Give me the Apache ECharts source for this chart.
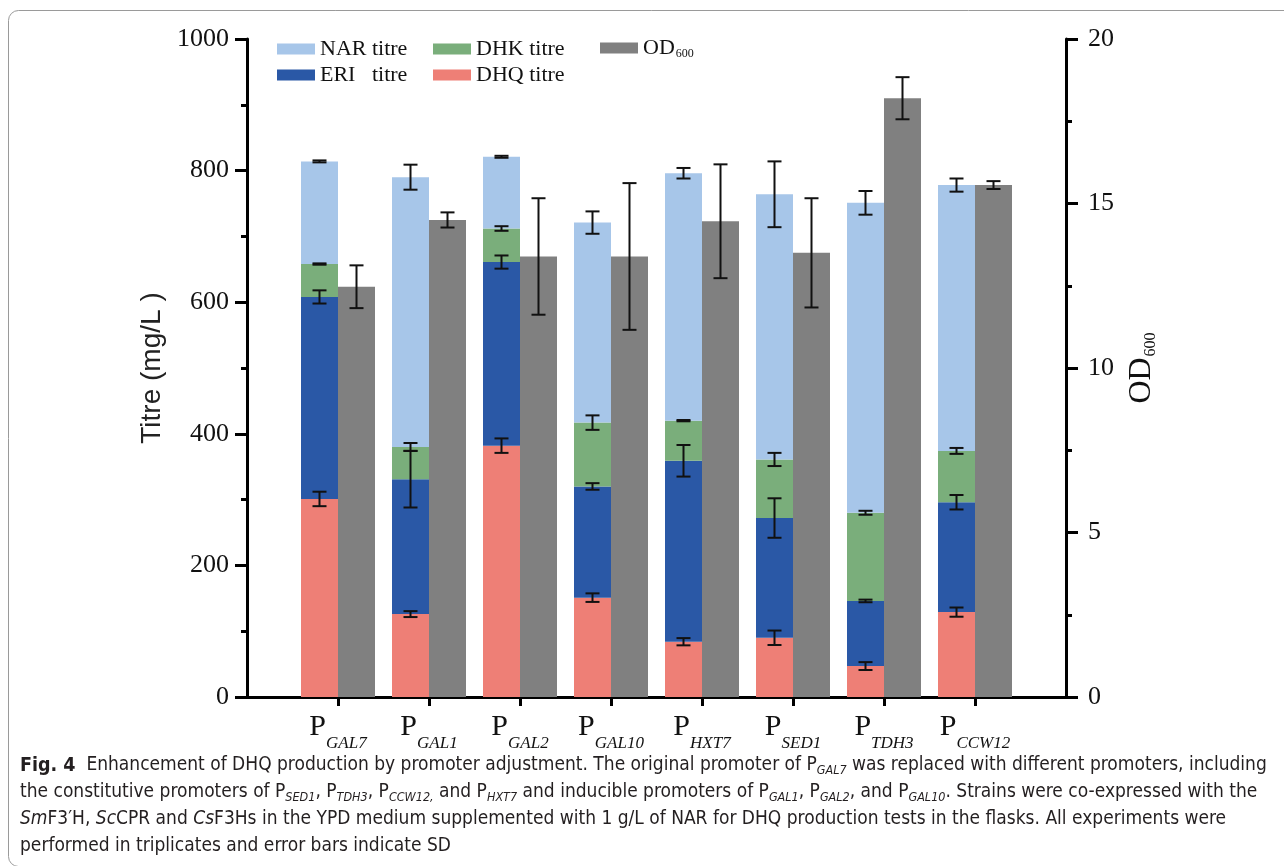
<!DOCTYPE html>
<html lang="en">
<head>
<meta charset="UTF-8">
<title>Fig. 4 DHQ promoter adjustment</title>
<script src="https://cdn.jsdelivr.net/npm/echarts@6.0.0/dist/echarts.min.js"></script>
<style>
    html, body { margin: 0; padding: 0; background: #fff; }
    #main { width: 1284px; height: 866px; }
</style>
</head>
<body>
<div id="main"></div>
<script>
// promoters on the x axis (shown as P with an italic subscript)
var promoters = ['GAL7', 'GAL1', 'GAL2', 'GAL10', 'HXT7', 'SED1', 'TDH3', 'CCW12'];

// stacked titre segments, mg/L (bottom to top)
var dhqTitre = [301, 126, 382, 151, 84, 90, 47, 129];
var eriTitre = [307, 205, 279, 169, 275, 182, 99, 167];
var dhkTitre = [50, 49, 51, 97, 61, 89, 134, 78];
var narTitre = [156, 410, 109, 304, 376, 403, 471, 404];

// SD of each segment (drawn at the top of the segment)
var dhqSd = [11, 4.5, 11, 6.5, 5.5, 11, 6, 7];
var eriSd = [10, 43, 10, 5, 24, 30, 2, 11];
var dhkSd = [1, 6, 3.5, 11, 1, 10, 3, 4.5];
var narSd = [1.5, 19, 1.5, 17, 8, 50, 18, 10];

// OD600, right axis
var od600 = [12.47, 14.5, 13.39, 13.39, 14.46, 13.5, 18.2, 15.56];
var od600Sd = [0.65, 0.23, 1.77, 2.23, 1.73, 1.66, 0.64, 0.12];

var leftTicks = { min: 0, max: 1000, interval: 200 };
var rightTicks = { min: 0, max: 20, interval: 5 };

var SERIF = "'Liberation Serif', 'Times New Roman', serif";
var SANS = "'Liberation Sans', Arial, sans-serif";
var CAPTION = "'Liberation Sans Narrow', 'DejaVu Sans Condensed', sans-serif";
var BAR_W = 37;
var CAP = 7;

var chart = echarts.init(document.getElementById('main'));

// empty slots at both ends give the half-gap between the y axes and the first/last group
var xCats = [' '].concat(promoters, ['  ']);
function isPromoter(i, v) { return promoters.indexOf(v) >= 0; }

function pairs(arr) {
    return arr.map(function (v, i) { return [promoters[i], v]; });
}

// error bars sit on the cumulative top of every segment
var titreErr = [];
var layers = [[dhqTitre, dhqSd], [eriTitre, eriSd], [dhkTitre, dhkSd], [narTitre, narSd]];
var running = promoters.map(function () { return 0; });
layers.forEach(function (l) {
    l[0].forEach(function (v, i) {
        running[i] += v;
        titreErr.push([promoters[i], running[i], l[1][i]]);
    });
});
var odErr = od600.map(function (v, i) { return [promoters[i], v, od600Sd[i]]; });

function errorBar(shift) {
    return function (params, api) {
        var x = api.value(0), y = api.value(1), sd = api.value(2);
        var hi = api.coord([x, y + sd]);
        var lo = api.coord([x, y - sd]);
        var cx = hi[0] + shift;
        var st = { stroke: '#111', lineWidth: 2 };
        return {
            type: 'group',
            children: [
                { type: 'line', shape: { x1: cx, y1: hi[1], x2: cx, y2: lo[1] }, style: st },
                { type: 'line', shape: { x1: cx - CAP, y1: hi[1], x2: cx + CAP, y2: hi[1] }, style: st },
                { type: 'line', shape: { x1: cx - CAP, y1: lo[1], x2: cx + CAP, y2: lo[1] }, style: st }
            ]
        };
    };
}

var legendBase = {
    orient: 'vertical',
    icon: 'rect',
    itemWidth: 38,
    itemHeight: 11,
    itemGap: 4,
    selectedMode: false,
    textStyle: {
        fontFamily: SERIF, fontSize: 22, color: '#111', lineHeight: 22,
        rich: {
            a: { fontFamily: SERIF, fontSize: 22, lineHeight: 22, color: '#111' },
            s: { fontFamily: SERIF, fontSize: 12, lineHeight: 12, padding: [12, 0, 0, 1], color: '#111' }
        }
    }
};

var caption =
    '{b|Fig. 4}  Enhancement of DHQ production by promoter adjustment. The original promoter of P{s|GAL7} was replaced with different promoters, including\n' +
    'the constitutive promoters of P{s|SED1}, P{s|TDH3}, P{s|CCW12,} and P{s|HXT7} and inducible promoters of P{s|GAL1}, P{s|GAL2}, and P{s|GAL10}. Strains were co-expressed with the\n' +
    '{i|Sm}F3\u2032H, {i|Sc}CPR and {i|Cs}F3Hs in the YPD medium supplemented with 1 g/L of NAR for DHQ production tests in the flasks. All experiments were\n' +
    'performed in triplicates and error bars indicate SD';

var option = {
    backgroundColor: '#fff',
    animation: false,
    graphic: [{
        type: 'rect',
        shape: { x: 8.5, y: 10.5, width: 1300, height: 856, r: 10 },
        style: { fill: 'none', stroke: '#9a9a9a', lineWidth: 1 },
        silent: true
    }],
    title: {
        left: 15,
        top: 747,
        text: caption,
        textStyle: {
            fontFamily: CAPTION, fontSize: 19, fontWeight: 'normal', color: '#231f20', lineHeight: 27,
            rich: {
                b: { fontFamily: CAPTION, fontSize: 19.5, fontWeight: 'bold', color: '#231f20', lineHeight: 27 },
                i: { fontFamily: CAPTION, fontSize: 19, fontStyle: 'italic', color: '#231f20', lineHeight: 27 },
                s: { fontFamily: CAPTION, fontSize: 12.5, fontStyle: 'italic', color: '#231f20', lineHeight: 17, padding: [10, 0, 0, 0] }
            }
        }
    },
    legend: [
        Object.assign({}, legendBase, { left: 272, top: 33, data: ['NAR titre', 'ERI   titre'] }),
        Object.assign({}, legendBase, { left: 428, top: 33, data: ['DHK titre', 'DHQ titre'] }),
        Object.assign({}, legendBase, {
            left: 595, top: 31, data: ['OD600'],
            formatter: function () { return '{a|OD}{s|600}'; }
        })
    ],
    grid: { left: 247, right: 218, top: 39, bottom: 169, outerBoundsMode: 'none' },
    xAxis: {
        type: 'category',
        data: xCats,
        boundaryGap: false,
        splitLine: { show: false },
        axisLine: { onZero: false, lineStyle: { color: '#000', width: 3 } },
        axisTick: { length: 9, interval: isPromoter, lineStyle: { color: '#000', width: 3 } },
        axisLabel: {
            margin: 15,
            interval: isPromoter,
            formatter: function (v) {
                return promoters.indexOf(v) >= 0 ? '{p|P}{s|' + v + '}' : '';
            },
            rich: {
                p: { fontFamily: SERIF, fontSize: 30, lineHeight: 30, color: '#111', verticalAlign: 'top' },
                s: { fontFamily: SERIF, fontSize: 17, fontStyle: 'italic', lineHeight: 17, color: '#111', verticalAlign: 'top', padding: [23, 0, 0, 0] }
            }
        }
    },
    yAxis: [{
        type: 'value',
        min: leftTicks.min,
        max: leftTicks.max,
        interval: leftTicks.interval,
        name: 'Titre (mg/L )',
        nameLocation: 'middle',
        nameGap: 74,
        nameTextStyle: { fontFamily: SANS, fontSize: 28, color: '#222' },
        splitLine: { show: false },
        axisLine: { show: true, onZero: false, lineStyle: { color: '#000', width: 3 } },
        axisTick: { show: true, length: 12, lineStyle: { color: '#000', width: 3 } },
        minorTick: { show: true, splitNumber: 2, length: 6, lineStyle: { color: '#000', width: 3 } },
        axisLabel: { margin: 18, fontFamily: SERIF, fontSize: 26, color: '#111', formatter: function (v) { return String(v); } }
    }, {
        type: 'value',
        position: 'right',
        min: rightTicks.min,
        max: rightTicks.max,
        interval: rightTicks.interval,
        name: '{a|OD}{s|600}',
        nameLocation: 'middle',
        nameRotate: 90,
        nameGap: 58,
        nameTextStyle: {
            rich: {
                a: { fontFamily: SERIF, fontSize: 32, lineHeight: 32, color: '#111' },
                s: { fontFamily: SERIF, fontSize: 16, lineHeight: 16, color: '#111', padding: [18, 0, 0, 1] }
            }
        },
        splitLine: { show: false },
        axisLine: { show: true, onZero: false, lineStyle: { color: '#000', width: 3 } },
        axisTick: { show: true, length: 12, lineStyle: { color: '#000', width: 3 } },
        minorTick: { show: true, splitNumber: 2, length: 6, lineStyle: { color: '#000', width: 3 } },
        axisLabel: { margin: 22, fontFamily: SERIF, fontSize: 26, color: '#111' }
    }],
    series: [
        { name: 'DHQ titre', type: 'bar', stack: 'titre', barWidth: BAR_W, barGap: '0%', data: pairs(dhqTitre), itemStyle: { color: '#ee7f76' } },
        { name: 'ERI   titre', type: 'bar', stack: 'titre', barWidth: BAR_W, barGap: '0%', data: pairs(eriTitre), itemStyle: { color: '#2a58a6' } },
        { name: 'DHK titre', type: 'bar', stack: 'titre', barWidth: BAR_W, barGap: '0%', data: pairs(dhkTitre), itemStyle: { color: '#7aae7b' } },
        { name: 'NAR titre', type: 'bar', stack: 'titre', barWidth: BAR_W, barGap: '0%', data: pairs(narTitre), itemStyle: { color: '#a7c6e9' } },
        { name: 'OD600', type: 'bar', yAxisIndex: 1, barWidth: BAR_W, barGap: '0%', data: pairs(od600), itemStyle: { color: '#808080' } },
        {
            type: 'custom', silent: true, z: 5,
            dimensions: ['x', 'y', 'sd'], encode: { x: 0, y: 1 },
            renderItem: errorBar(-BAR_W / 2), data: titreErr
        },
        {
            type: 'custom', silent: true, z: 5, yAxisIndex: 1,
            dimensions: ['x', 'y', 'sd'], encode: { x: 0, y: 1 },
            renderItem: errorBar(BAR_W / 2), data: odErr
        }
    ]
};

chart.setOption(option);
</script>
</body>
</html>
